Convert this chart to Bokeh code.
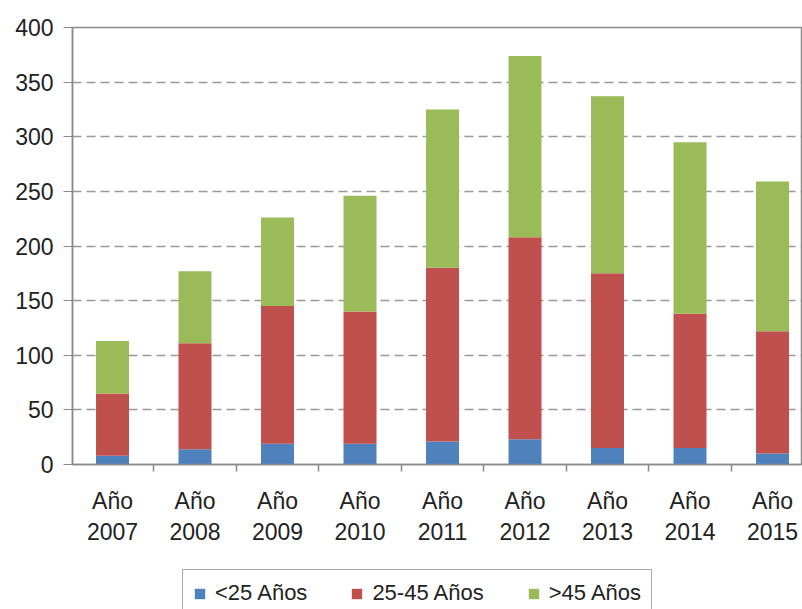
from bokeh.plotting import figure
from bokeh.layouts import column
from bokeh.models import ColumnDataSource, Legend, LegendItem, FixedTicker, Range1d
from bokeh.embed import file_html
from bokeh.resources import INLINE

years = ["2007", "2008", "2009", "2010", "2011", "2012", "2013", "2014", "2015"]
menos25 = [8, 14, 19, 19, 21, 23, 15, 15, 10]
de25a45 = [57, 97, 126, 121, 159, 185, 160, 123, 112]
mas45 = [48, 66, 81, 106, 145, 166, 162, 157, 137]
series_names = ["<25 Años", "25-45 Años", ">45 Años"]
colors = ["#4F81BD", "#C0504D", "#9BBB59"]
y_ticks = [0, 50, 100, 150, 200, 250, 300, 350, 400]

xs = list(range(1, len(years) + 1))
source = ColumnDataSource(dict(x=xs, s1=menos25, s2=de25a45, s3=mas45))

FONT = "Liberation Sans"

p = figure(frame_width=730, frame_height=437, output_backend="svg", toolbar_location=None,
           x_range=Range1d(0.515, 0.515 + 730 / 82.5), y_range=Range1d(0, 400),
           min_border_left=72, min_border_top=27, min_border_right=0, min_border_bottom=100)
p.background_fill_color = "white"
p.border_fill_color = "white"
p.outline_line_color = "#8a8a8a"
p.outline_line_width = 1.5

p.vbar_stack(["s1", "s2", "s3"], x="x", width=0.4, color=colors, source=source, line_color=None)

# y axis
p.yaxis.ticker = FixedTicker(ticks=y_ticks)
p.yaxis.axis_line_color = "#8a8a8a"
p.yaxis.axis_line_width = 1.5
p.yaxis.major_tick_line_color = "#8a8a8a"
p.yaxis.major_tick_out = 9
p.yaxis.major_tick_in = 0
p.yaxis.minor_tick_line_color = None
p.yaxis.major_label_text_font = FONT
p.yaxis.major_label_text_font_size = "23px"
p.yaxis.major_label_text_color = "#222222"
p.yaxis.major_label_standoff = 10

# x axis
p.xaxis.ticker = FixedTicker(ticks=xs, minor_ticks=[x + 0.5 for x in [0] + xs])
p.xaxis.major_label_overrides = {x: "Año\n" + y for x, y in zip(xs, years)}
p.xaxis.axis_line_color = "#8a8a8a"
p.xaxis.axis_line_width = 1.5
p.xaxis.major_tick_line_color = None
p.xaxis.major_tick_out = 0
p.xaxis.major_tick_in = 0
p.xaxis.minor_tick_line_color = "#8a8a8a"
p.xaxis.minor_tick_line_width = 1.5
p.xaxis.minor_tick_out = 7
p.xaxis.minor_tick_in = 0
p.xaxis.major_label_text_font = FONT
p.xaxis.major_label_text_font_size = "23px"
p.xaxis.major_label_text_color = "#222222"
p.xaxis.major_label_standoff = 16

p.xgrid.grid_line_color = None
p.ygrid.ticker = FixedTicker(ticks=y_ticks)
p.ygrid.grid_line_color = "#999999"
p.ygrid.grid_line_width = 1.5
p.ygrid.grid_line_dash = "9 5"

# legend strip below the chart (its ranges keep its own bars out of view)
p2 = figure(width=802, height=45, output_backend="svg", toolbar_location=None,
            x_axis_location=None, y_axis_location=None,
            x_range=Range1d(100, 101), y_range=Range1d(1000, 1001),
            min_border_left=0, min_border_top=0, min_border_right=0, min_border_bottom=0)
p2.outline_line_color = None
p2.background_fill_color = "white"
p2.border_fill_color = "white"
p2.xgrid.grid_line_color = None
p2.ygrid.grid_line_color = None

swatches = p2.vbar_stack(["s1", "s2", "s3"], x="x", width=0.4, color=colors, source=source, line_color=None)

legend = Legend(items=[LegendItem(label=n, renderers=[r]) for n, r in zip(series_names, swatches)],
                orientation="horizontal", location=(110, -8))
legend.label_text_font = FONT
legend.label_text_font_size = "22px"
legend.label_text_color = "#222222"
legend.glyph_width = 13
legend.glyph_height = 13
legend.label_standoff = 9
legend.spacing = 43
legend.padding = 10
legend.margin = 0
legend.border_line_color = "#555555"
legend.border_line_width = 1.5
legend.background_fill_alpha = 1
p2.add_layout(legend, "center")

open("out.html", "w").write(file_html(column(p, p2, spacing=0), INLINE))
